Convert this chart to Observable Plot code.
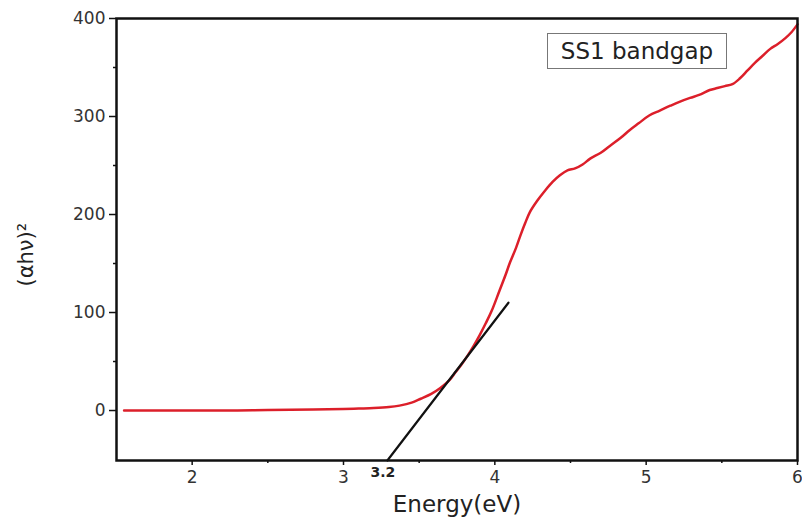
<!DOCTYPE html>
<html>
<head>
<meta charset="utf-8">
<script src="https://cdn.jsdelivr.net/npm/d3@7"></script>
<script src="https://cdn.jsdelivr.net/npm/@observablehq/plot@0.6"></script>
<style>
  html, body { margin: 0; padding: 0; background: #fff; }
  #wrap { position: relative; width: 802px; height: 519px; font-family: "DejaVu Sans", sans-serif; }
  #legend { position: absolute; left: 547px; top: 33px; width: 180px; height: 36px; border: 1px solid #777;
    box-sizing: border-box; font-size: 23px; color: #222; display: flex; align-items: center; justify-content: center; }
</style>
</head>
<body>
<div id="wrap"><div id="legend">SS1 bandgap</div></div>
<script>
const energy = [1.55, 1.8, 2.0, 2.3, 2.5, 2.8, 3.0, 3.1, 3.2, 3.3, 3.37, 3.45, 3.51, 3.58, 3.64, 3.7, 3.74, 3.78, 3.82, 3.86, 3.90, 3.94, 3.98, 4.03, 4.07, 4.10, 4.14, 4.17, 4.20, 4.23, 4.28, 4.33, 4.38, 4.43, 4.48, 4.53, 4.58, 4.63, 4.70, 4.76, 4.83, 4.89, 4.95, 5.02, 5.09, 5.16, 5.22, 5.29, 5.35, 5.42, 5.47, 5.52, 5.57, 5.62, 5.67, 5.72, 5.77, 5.82, 5.87, 5.92, 5.96, 6.0];
const absorb = [0, 0, 0, 0, 0.5, 1, 1.5, 2, 2.5, 3.5, 5, 8, 12, 17, 23, 31, 39, 47, 56, 66, 77, 89, 102, 122, 138, 151, 166, 179, 191, 202, 214, 224, 233, 240, 245, 247, 251, 257, 263, 270, 278, 286, 293, 301, 306, 311, 315, 319, 322, 327, 329, 331, 333, 339, 347, 355, 362, 369, 374, 380, 386, 394];
const tangentX = [3.29, 4.09];
const tangentY = [-51, 110];
const xTicks = [2, 3, 4, 5, 6];
const xMinor = [2.5, 3.5, 4.5, 5.5];
const yTicks = [0, 100, 200, 300, 400];
const yMinor = [50, 150, 250, 350];
const bandgapLabel = [{x: 3.26, label: "3.2"}];

const curve = energy.map((e, i) => ({e, a: absorb[i]}));
const tangent = tangentX.map((x, i) => ({x, y: tangentY[i]}));

const plot = Plot.plot({
  width: 802,
  height: 519,
  marginLeft: 116,
  marginRight: 5,
  marginTop: 18,
  marginBottom: 59,
  style: {fontFamily: "'DejaVu Sans', sans-serif", fontSize: "17px", color: "#333", background: "transparent"},
  x: {domain: [1.5, 6]},
  y: {domain: [-51, 400]},
  marks: [
    Plot.axisX({ticks: xTicks, tickSize: 5, tickPadding: 5, tickFormat: d => d, fontSize: 17, fill: "#333", label: null, stroke: "#111", strokeWidth: 1.5}),
    Plot.axisX({ticks: xMinor, tickSize: 3, tickFormat: () => "", label: null, stroke: "#111", strokeWidth: 1.5}),
    Plot.axisY({ticks: yTicks, tickSize: 7, tickPadding: 4, fontSize: 17, fill: "#333", label: null, stroke: "#111", strokeWidth: 1.5}),
    Plot.axisY({ticks: yMinor, tickSize: 3, tickFormat: () => "", label: null, stroke: "#111", strokeWidth: 1.5}),
    Plot.text(bandgapLabel, {x: "x", text: "label", frameAnchor: "bottom", dy: 12, lineAnchor: "middle", fontWeight: "bold", fontSize: 14, fill: "#222"}),
    Plot.text(["Energy(eV)"], {frameAnchor: "bottom", dy: 44, lineAnchor: "middle", fontSize: 23, fill: "#222"}),
    Plot.text(["(αhν)²"], {frameAnchor: "left", dx: -90, dy: 47, rotate: -90, fontSize: 21, fill: "#222"}),
    Plot.line(curve, {x: "e", y: "a", stroke: "#dc1f2a", strokeWidth: 2.5, curve: "catmull-rom"}),
    Plot.line(tangent, {x: "x", y: "y", stroke: "#111", strokeWidth: 2.2}),
    Plot.frame({stroke: "#111", strokeWidth: 2.5})
  ]
});
document.getElementById("wrap").prepend(plot);
plot.style.position = "absolute";
plot.style.left = "0";
plot.style.top = "0";
</script>
</body>
</html>
